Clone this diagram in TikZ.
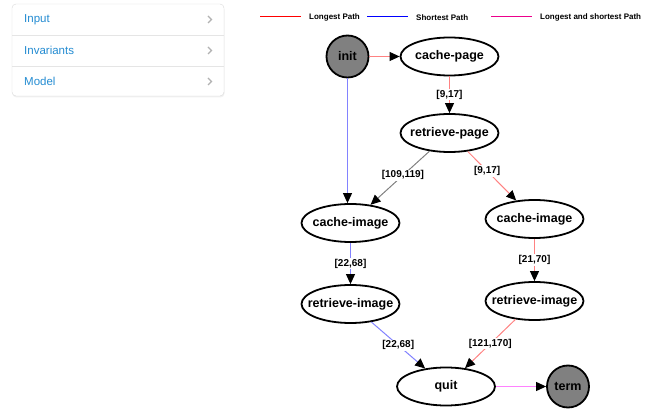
\documentclass[tikz,border=0pt]{standalone}
\usepackage{fontspec}
\setmainfont{Liberation Sans}
\usetikzlibrary{arrows.meta}
\usetikzlibrary{shapes.geometric}

\definecolor{linkblue}{RGB}{36,140,210}
\definecolor{longred}{RGB}{255,130,130}
\definecolor{shortblue}{RGB}{130,130,255}
\definecolor{bothpink}{RGB}{255,130,255}

\tikzset{
    state/.style = {ellipse, draw, line width=1.8pt, minimum width=98pt, minimum height=38pt,
        inner xsep=-15pt, inner ysep=0pt, font=\fontsize{12.5}{14}\selectfont\bfseries},
    endstate/.style = {circle, draw, line width=1.8pt, fill=black!50, minimum size=42pt,
        inner sep=0pt, font=\fontsize{12.5}{14}\selectfont\bfseries},
    trans/.style = {-{Triangle[color=black,length=10pt,width=9pt]}, line width=1pt},
    bound/.style = {fill=white, text=black, inner sep=1pt, font=\fontsize{10}{11}\selectfont\bfseries},
}

\begin{document}
\begin{tikzpicture}[x=1pt,y=-1pt]
    \useasboundingbox (0,0) rectangle (657,414);

    % side menu
    \fill [black!5, rounded corners=4pt] (12.5,5.5) rectangle (224.5,97.5);
    \draw [black!15, fill=white, rounded corners=4pt] (12,4) rectangle (224,96);
    \draw [black!10] (12,35) -- (224,35) (12,66) -- (224,66);
    \foreach \t[
        count=\n,
        evaluate=\n as \y using 19.5+31*(\n-1),
    ] in {Input,Invariants,Model}{
            \node [anchor=west, text=linkblue, font=\fontsize{11.5}{13}\selectfont, inner sep=0pt] (menu\n) at (24,\y) {\t};
            \draw [black!30, line width=1.3pt] (208,\y-3.5) -- (211.5,\y) -- (208,\y+3.5);
        }

    % legend
    \foreach \x/\c/\t[count=\n] in {260/red/Longest Path,367/blue/Shortest Path,491/magenta/Longest and shortest Path}{
            \draw [\c, line width=1pt] (\x,17) --++ (41,0);
            \node [anchor=west, inner sep=0pt, font=\fontsize{8}{9}\selectfont\bfseries] (legend\n) at (\x+49,17.5) {\t};
        }

    \node [endstate] (init) at (347.5,56.5) {init};
    \node [state] (cachepage) at (449.5,56.5) {cache-page};
    \node [state] (retrievepage) at (449.5,133) {retrieve-page};
    \node [state] (cacheimageL) at (350.5,223) {cache-image};
    \node [state] (cacheimageR) at (534.5,219) {cache-image};
    \node [state] (retrieveimageL) at (350.5,304) {retrieve-image};
    \node [state] (retrieveimageR) at (534.5,301) {retrieve-image};
    \node [state] (quit) at (446,386.5) {quit};
    \node [endstate] (term) at (568,386.5) {term};

    \coordinate (shortcut) at (init |- cacheimageL.north);
    \draw [trans, longred] (init) -- (cachepage);
    \draw [trans, longred] (cachepage) -- node[bound] {[9,17]} (retrievepage);
    \draw [trans, black!50] (retrievepage) -- node[bound, pos=0.45] {[109,119]} (cacheimageL);
    \draw [trans, longred] (retrievepage) -- node[bound, pos=0.4] {[9,17]} (cacheimageR);
    \draw [trans, shortblue] (init) -- (shortcut);
    \draw [trans, shortblue] (cacheimageL) -- node[bound] {[22,68]} (retrieveimageL);
    \draw [trans, longred] (cacheimageR) -- node[bound] {[21,70]} (retrieveimageR);
    \draw [trans, shortblue] (retrieveimageL) -- node[bound] {[22,68]} (quit);
    \draw [trans, longred] (retrieveimageR) -- node[bound] {[121,170]} (quit);
    \draw [trans, bothpink] (quit) -- (term);
\end{tikzpicture}
\end{document}
